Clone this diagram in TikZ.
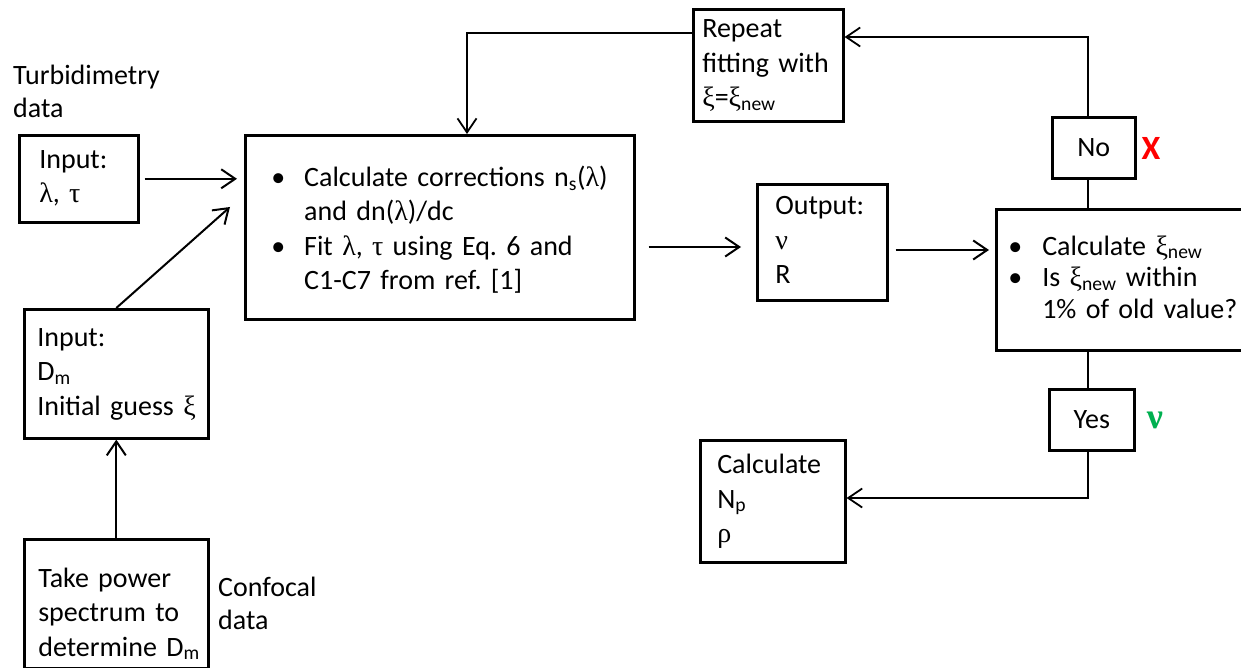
\documentclass[tikz,border=0pt]{standalone}
\usepackage{fontspec}
\setmainfont{Carlito}
\newfontfamily\grk{Liberation Serif}
\usetikzlibrary{arrows.meta,calc}
\newcommand\glam{{\grk λ}}
\newcommand\gtau{{\grk τ}}
\newcommand\gxi{{\grk ξ}}
\newcommand\gnu{{\grk ν}}
\newcommand\grho{{\grk ρ}}
\newcommand\lines[1]{\begin{tabular}{@{}l@{}}#1\end{tabular}}
\definecolor{xred}{RGB}{255,0,0}
\definecolor{vgreen}{RGB}{0,176,80}
\begin{document}
\frenchspacing
\begin{tikzpicture}[x=1pt,y=-1pt,
  box/.style={draw, line width=2.6pt, rectangle, anchor=north west, align=left,
    inner ysep=0pt, font=\fontsize{28}{34.5}\selectfont},
  cbox/.style={draw, line width=2.6pt, rectangle, anchor=north west, align=center,
    inner sep=0pt, font=\fontsize{28}{34.5}\selectfont},
  lbl/.style={anchor=west, align=left, inner sep=0pt, font=\fontsize{28}{33}\selectfont},
  arr/.style={line width=2pt, -{Straight Barb[length=14pt,width=19pt]}},
  fb/.style={line width=1.8pt},
  fbarr/.style={fb, -{Straight Barb[length=14pt,width=19pt]}},
]
\useasboundingbox (0,0) rectangle (1241,668);

% helper coordinates
\coordinate (vx) at (1088,0);
\coordinate (ytop) at (0,33);
\coordinate (yret) at (0,37);
\coordinate (yout) at (0,247);
\coordinate (ydec) at (0,250);
\coordinate (ycal) at (0,498);

% boxes
\node[box, minimum width=119pt, minimum height=87pt, inner xsep=20pt, text width=79pt]
  (inA) at (18,134) {\lines{Input:\\\glam, \gtau}};

\node[box, minimum width=389pt, minimum height=184pt, inner xsep=26pt, text width=337pt]
  (main) at (244,134) {\raisebox{-4pt}[\height][\depth]{\begin{tabular}{@{}l@{\hspace{19pt}}l@{}}
  \textbullet & Calculate corrections n\textsubscript{s}(\glam)\\
   & and dn(\glam)/dc\\
  \textbullet & Fit \glam, \gtau{} using Eq. 6 and\\
   & C1-C7 from ref. [1]
  \end{tabular}}};

\node[box, minimum width=130pt, minimum height=116pt, inner xsep=18pt, text width=94pt]
  (out) at (756,183) {\lines{Output:\\\gnu\\R}};

\node[box, minimum width=250pt, minimum height=141pt, inner xsep=12pt, text width=226pt]
  (dec) at (995,208) {\begin{tabular}{@{}l@{\hspace{20pt}}l@{}}
  \textbullet & Calculate \gxi\textsubscript{new}\\[-3pt]
  \textbullet & Is \gxi\textsubscript{new} within\\[-3pt]
   & 1\% of old value?
  \end{tabular}};

\node[box, minimum width=150pt, minimum height=112pt, inner xsep=9pt, text width=132pt]
  (rep) at (692,8) {\lines{Repeat\\fitting with\\\gxi=\gxi\textsubscript{new}}};

\node[cbox, minimum width=83pt, minimum height=61pt] (no) at (1051,116) {No};
\node[cbox, minimum width=85pt, minimum height=61pt] (yes) at (1048,388) {Yes};

\node[box, minimum width=184pt, minimum height=129pt, inner xsep=13pt, text width=158pt]
  (inD) at (23,308) {\lines{Input:\\D\textsubscript{m}\\Initial guess \gxi}};

\node[box, minimum width=184pt, minimum height=129pt, inner xsep=14pt, text width=156pt]
  (tp) at (23,538) {\raisebox{-11pt}[\height][\depth]{\lines{Take power\\spectrum to\\determine D\textsubscript{m}}}};

\node[box, minimum width=145pt, minimum height=122pt, inner xsep=17pt, text width=111pt]
  (calc) at (699,439) {\lines{Calculate\\N\textsubscript{p}\\\grho}};

% free labels
\node[lbl] (turb) at (13,91) {Turbidimetry\\data};
\node[lbl] (conf) at (218,603) {Confocal\\data};
\node[font=\fontsize{34}{34}\selectfont\bfseries, text=xred, inner sep=0pt] (xm) at (1151,148) {X};
\node[font=\fontsize{36}{36}\selectfont\bfseries\grk, text=vgreen, inner sep=0pt] (vm) at (1155,420) {ν};

% connectors
\draw[arr, shorten <=5pt, shorten >=7pt] (inA.east) -- (main.west |- inA.east);
\draw[arr] (inD.north) -- ($(main.west |- 0,207)+(-14,0)$);
\draw[arr] (tp.north) -- (inD.south);
\draw[arr, shorten <=13pt, shorten >=15pt] (main.east |- yout) -- (out.west |- yout);
\draw[arr, shorten <=7pt, shorten >=6pt] (out.east |- ydec) -- (dec.west |- ydec);
\draw[fbarr] (rep.west |- ytop) -| ($(main.north west)+(223,0)$);
\draw[fb] (dec.north -| vx) -- (no.south -| vx);
\draw[fbarr] (no.north -| vx) |- (rep.east |- yret);
\draw[fb] (dec.south -| vx) -- (yes.north -| vx);
\draw[fbarr] (yes.south -| vx) |- (calc.east |- ycal);
\end{tikzpicture}
\end{document}
